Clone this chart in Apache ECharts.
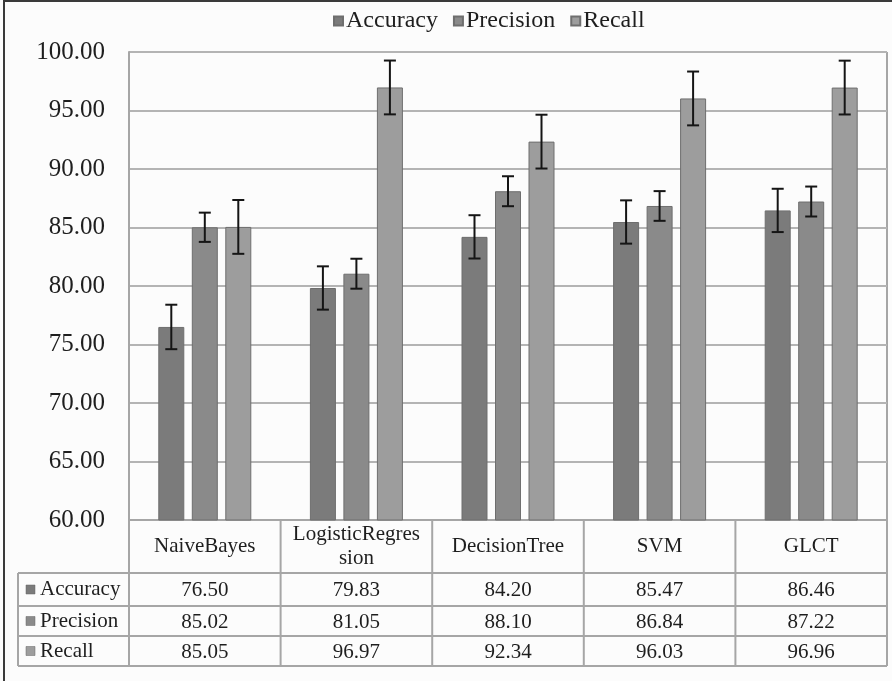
<!DOCTYPE html>
<html>
<head>
<meta charset="utf-8">
<title>Accuracy / Precision / Recall</title>
<script src="https://cdn.jsdelivr.net/npm/echarts/dist/echarts.min.js"></script>
<style>
    html, body { margin: 0; padding: 0; background: #fcfcfc; }
    #main { width: 892px; height: 681px; }
</style>
</head>
<body>
<div id="main"></div>
<script>
// 数据
let categories = ['NaiveBayes', 'LogisticRegression', 'DecisionTree', 'SVM', 'GLCT'];
let seriesNames = ['Accuracy', 'Precision', 'Recall'];
let accuracy = [76.50, 79.83, 84.20, 85.47, 86.46];
let precision = [85.02, 81.05, 88.10, 86.84, 87.22];
let recall = [85.05, 96.97, 92.34, 96.03, 96.96];
let accuracyErr = [1.9, 1.85, 1.85, 1.85, 1.85];
let precisionErr = [1.25, 1.28, 1.28, 1.27, 1.28];
let recallErr = [2.3, 2.3, 2.3, 2.3, 2.3];
let yTicks = [60, 65, 70, 75, 80, 85, 90, 95, 100];

let values = [accuracy, precision, recall];
let errors = [accuracyErr, precisionErr, recallErr];
let colors = ['#7b7b7b', '#8a8a8a', '#9d9d9d'];

// 布局
let W = 892, H = 681;
let plotLeft = 129, plotRight = 887, plotTop = 52, plotBottom = 520;
let tableLeft = 18;
let rowLines = [573, 606, 636, 666];
let barW = 26, barStep = 33.5;
let lineColor = '#a6a6a6';
let font = '"Liberation Serif", "DejaVu Serif", serif';

let myChart = echarts.init(document.getElementById('main'));

function errorBarItem(k) {
    return function (params, api) {
        let idx = api.value(0);
        let v = api.value(1);
        let e = api.value(2);
        let top = api.coord([idx, v + e]);
        let bot = api.coord([idx, v - e]);
        let x = top[0] + (k - 1) * barStep;
        let cap = 6;
        let st = { stroke: '#151515', lineWidth: 2 };
        return {
            type: 'group',
            children: [
                { type: 'line', shape: { x1: x, y1: top[1], x2: x, y2: bot[1] }, style: st },
                { type: 'line', shape: { x1: x - cap, y1: top[1], x2: x + cap, y2: top[1] }, style: st },
                { type: 'line', shape: { x1: x - cap, y1: bot[1], x2: x + cap, y2: bot[1] }, style: st }
            ]
        };
    };
}

// 表格
function buildTable() {
    let g = [];
    let colW = (plotRight - plotLeft) / categories.length;
    // 外框
    g.push({ type: 'rect', shape: { x: 4, y: 1, width: W + 20, height: H + 20 },
        style: { fill: null, stroke: '#3a3a3a', lineWidth: 2 }, z: 1 });
    let ls = { stroke: lineColor, lineWidth: 2 };
    rowLines.forEach(function (y) {
        g.push({ type: 'line', shape: { x1: tableLeft, y1: y, x2: plotRight, y2: y }, style: ls });
    });
    g.push({ type: 'line', shape: { x1: tableLeft, y1: rowLines[0], x2: tableLeft, y2: rowLines[3] }, style: ls });
    for (let i = 0; i <= categories.length; i++) {
        let x = plotLeft + i * colW;
        let y1 = (i === categories.length) ? plotTop : plotBottom;
        g.push({ type: 'line', shape: { x1: x, y1: y1, x2: x, y2: rowLines[3] }, style: ls });
    }
    for (let r = 0; r < 3; r++) {
        let yc = (rowLines[r] + rowLines[r + 1]) / 2;
        g.push({ type: 'rect', shape: { x: 26, y: yc - 4.5, width: 9, height: 9 },
            style: { fill: colors[r], stroke: '#666', lineWidth: 0.5 } });
        g.push({ type: 'text', x: 40, y: yc, style: { text: seriesNames[r], font: '21px ' + font,
            fill: '#1e1e1e', textAlign: 'left', textVerticalAlign: 'middle' } });
        for (let i = 0; i < categories.length; i++) {
            g.push({ type: 'text', x: plotLeft + (i + 0.5) * colW, y: yc + 1,
                style: { text: values[r][i].toFixed(2), font: '21px ' + font, fill: '#1e1e1e',
                    textAlign: 'center', textVerticalAlign: 'middle' } });
        }
    }
    return g;
}

let series = [];
seriesNames.forEach(function (name, k) {
    series.push({
        name: name,
        type: 'bar',
        data: values[k],
        barWidth: barW,
        barGap: ((barStep - barW) / barW * 100) + '%',
        itemStyle: { color: colors[k], borderColor: '#6e6e6e', borderWidth: 1 },
        z: 2
    });
});
seriesNames.forEach(function (name, k) {
    series.push({
        type: 'custom',
        name: name + '_err',
        renderItem: errorBarItem(k),
        data: values[k].map(function (v, i) { return [i, v, errors[k][i]]; }),
        encode: { x: 0, y: 1 },
        z: 5,
        silent: true
    });
});

let option = {
    backgroundColor: '#fcfcfc',
    animation: false,
    legend: {
        data: seriesNames,
        top: 4,
        left: 328,
        icon: 'rect',
        itemWidth: 9,
        itemHeight: 9,
        itemGap: 15,
        textStyle: { fontFamily: font, fontSize: 24, color: '#1e1e1e', padding: [0, 0, 0, -2] }
    },
    grid: { left: plotLeft, right: W - plotRight, top: plotTop, bottom: H - plotBottom },
    xAxis: {
        type: 'category',
        data: categories,
        axisLine: { show: true, lineStyle: { color: lineColor, width: 2 } },
        axisTick: { show: false },
        axisLabel: {
            interval: 0,
            margin: 26,
            verticalAlign: 'middle',
            fontFamily: font,
            fontSize: 21,
            lineHeight: 24,
            color: '#1e1e1e',
            formatter: function (s) {
                return s.length > 14 ? s.slice(0, 14) + '\n' + s.slice(14) : s;
            }
        }
    },
    yAxis: {
        type: 'value',
        min: yTicks[0],
        max: yTicks[yTicks.length - 1],
        interval: yTicks[1] - yTicks[0],
        axisLine: { show: true, lineStyle: { color: lineColor, width: 2 } },
        axisTick: { show: false },
        splitLine: { lineStyle: { color: '#b4b4b4', width: 2 } },
        axisLabel: {
            margin: 24,
            fontFamily: font,
            fontSize: 25,
            color: '#1e1e1e',
            formatter: function (v) { return v.toFixed(2); }
        }
    },
    graphic: buildTable(),
    series: series
};

myChart.setOption(option);
</script>
</body>
</html>
